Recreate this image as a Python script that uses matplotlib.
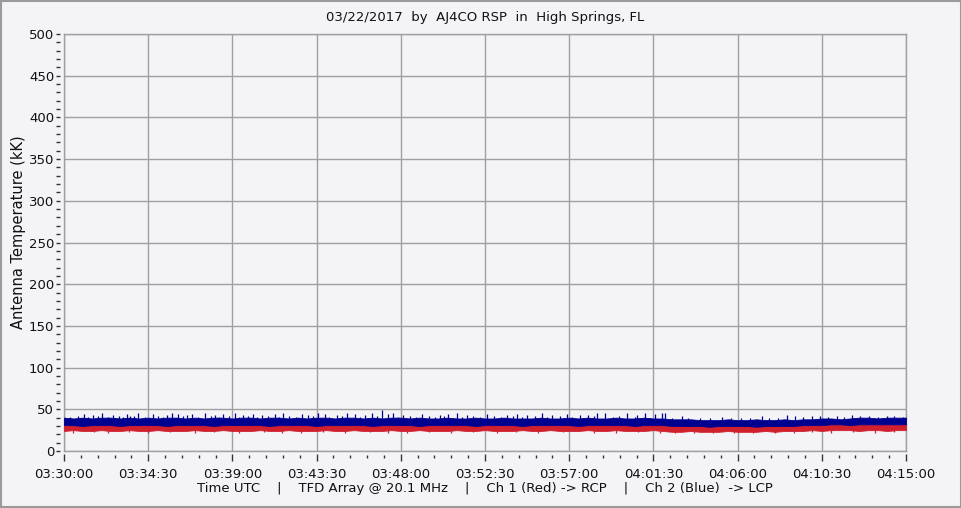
"""Antenna temperature strip chart, AJ4CO RSP, 03/22/2017."""

import matplotlib

matplotlib.use("Agg")
import matplotlib.pyplot as plt
import numpy as np
from matplotlib.patches import Rectangle

# sample times, seconds after 03:30:00 (one envelope sample every 30 s)
sample_t = np.arange(0, 2701, 30)

# channel 2 (blue, LCP) noise band envelope, kK
blue_hi = [
    40, 39, 40, 39, 40, 40, 39, 40, 39, 40,
    39, 40, 40, 39, 40, 39, 40, 40, 39, 40,
    40, 39, 40, 40, 39, 40, 39, 40, 40, 39,
    40, 40, 39, 40, 39, 40, 40, 39, 40, 39,
    39, 40, 39, 39, 40, 39, 39, 40, 39, 39,
    39, 40, 39, 39, 40, 39, 40, 39, 39, 40,
    39, 39, 40, 39, 39, 38, 38, 38, 37, 37,
    37, 38, 37, 37, 38, 37, 37, 38, 37, 38,
    38, 39, 39, 38, 39, 40, 40, 39, 40, 40,
    40,
]
blue_lo = [
    31, 31, 30, 31, 31, 31, 30, 31, 31, 31,
    31, 30, 31, 31, 31, 31, 30, 31, 31, 31,
    31, 31, 30, 31, 31, 31, 31, 30, 31, 31,
    31, 31, 31, 30, 31, 31, 31, 31, 30, 31,
    31, 31, 31, 31, 30, 31, 31, 31, 31, 30,
    31, 31, 31, 31, 31, 30, 31, 31, 31, 31,
    31, 30, 31, 31, 31, 30, 30, 30, 30, 29,
    30, 30, 30, 30, 29, 30, 30, 30, 30, 31,
    31, 31, 32, 32, 31, 32, 32, 32, 32, 32,
    32,
]

# channel 1 (red, RCP) noise band envelope, kK
red_hi = [
    31, 31, 31, 31, 31, 31, 31, 31, 31, 31,
    31, 31, 31, 31, 31, 31, 31, 31, 31, 31,
    31, 31, 31, 31, 31, 31, 31, 31, 31, 31,
    31, 31, 31, 31, 31, 31, 31, 31, 31, 31,
    31, 31, 31, 31, 31, 31, 31, 31, 31, 31,
    31, 31, 31, 31, 31, 31, 31, 31, 31, 31,
    31, 31, 31, 31, 31, 30, 30, 30, 30, 30,
    30, 30, 30, 30, 30, 30, 30, 30, 30, 31,
    31, 31, 32, 32, 32, 32, 32, 32, 32, 32,
    32,
]
red_lo = [
    24, 25, 24, 24, 25, 24, 24, 25, 24, 24,
    25, 24, 24, 24, 25, 24, 24, 25, 24, 24,
    24, 25, 24, 24, 25, 24, 24, 24, 25, 24,
    24, 25, 24, 24, 24, 25, 24, 24, 25, 24,
    24, 24, 25, 24, 24, 25, 24, 24, 24, 25,
    24, 24, 25, 24, 24, 24, 25, 24, 24, 25,
    24, 24, 24, 25, 24, 23, 23, 24, 23, 23,
    23, 24, 23, 23, 23, 24, 23, 24, 24, 24,
    25, 24, 25, 25, 25, 24, 25, 25, 24, 25,
    25,
]

# isolated blue spikes: time (s after 03:30:00) and peak (kK)
blue_spike_t = [
    64, 93, 122, 157, 202, 212, 237, 285, 330, 346, 366, 394, 410, 452,
    484, 510, 548, 574, 606, 635, 677, 702, 763, 782, 815, 837, 876, 908,
    933, 965, 988, 1020, 1039, 1055, 1087, 1148, 1206, 1232, 1260, 1292,
    1357, 1421, 1453, 1485, 1533, 1565, 1613, 1655, 1680, 1709, 1735,
    1806, 1838, 1863, 1895, 1918, 1927, 1982, 2110, 2238, 2319, 2344,
    2424, 2527, 2553, 2639,
]
blue_spike_v = [
    44, 43, 45, 43, 44, 42, 45, 44, 43, 45, 44, 43, 44, 45,
    43, 44, 45, 43, 44, 43, 44, 45, 44, 43, 45, 44, 43, 45,
    44, 43, 45, 49, 44, 45, 43, 44, 43, 44, 46, 43,
    44, 43, 44, 43, 45, 43, 44, 43, 43, 46, 45,
    45, 43, 46, 44, 46, 46, 42, 41, 42, 43, 42,
    42, 43, 42, 42,
]

# small blue bumps along the top of the band
blue_bump_t = [
    20, 45, 78, 108, 140, 175, 190, 225, 260, 300, 318, 380, 430, 470,
    498, 530, 560, 590, 620, 655, 690, 720, 745, 800, 850, 890, 950,
    1005, 1070, 1110, 1130, 1170, 1190, 1220, 1275, 1310, 1335, 1380,
    1400, 1440, 1470, 1510, 1550, 1590, 1630, 1700, 1760, 1780, 1830,
    1880, 1950, 2000, 2040, 2070, 2140, 2170, 2200, 2260, 2290, 2370,
    2400, 2450, 2480, 2500, 2580, 2610, 2660, 2690,
]
blue_bump_v = [
    41, 42, 41, 42, 41, 42, 41, 42, 41, 42, 41, 42, 41, 42,
    41, 42, 41, 42, 41, 42, 41, 42, 41, 42, 41, 42, 41,
    42, 41, 42, 41, 42, 41, 42, 41, 42, 41, 42,
    41, 42, 41, 42, 41, 42, 41, 42, 41, 42, 41,
    40, 39, 40, 39, 40, 39, 40, 39, 40, 39, 41,
    42, 41, 42, 41, 42, 41, 42, 41,
]

# downward red spikes
red_spike_t = [
    30, 95, 140, 210, 270, 340, 420, 480, 560, 640, 700, 760, 830, 900,
    980, 1040, 1100, 1170, 1240, 1310, 1390, 1450, 1520, 1600, 1700,
    1770, 1840, 1910, 1960, 2020, 2080, 2150, 2210, 2280, 2340, 2400,
    2460, 2530, 2600, 2660,
]
red_spike_v = [
    22, 23, 22, 23, 22, 23, 22, 23, 22, 23, 22, 21, 23, 22,
    23, 22, 22, 23, 22, 23, 22, 23, 22, 23, 21,
    22, 23, 22, 21, 21, 22, 21, 22, 21, 22, 23,
    22, 23, 22, 23,
]

x_tick_labels = [
    "03:30:00", "03:34:30", "03:39:00", "03:43:30", "03:48:00", "03:52:30",
    "03:57:00", "04:01:30", "04:06:00", "04:10:30", "04:15:00",
]

BG = "#f4f4f7"
GRID = "#a0a0a0"
BLUE = "#00008f"
RED = "#d0202e"
TXT = "#111111"

plt.rcParams["font.family"] = "DejaVu Sans"
plt.rcParams["font.size"] = 9.5

fig = plt.figure(figsize=(9.62, 5.08), dpi=100, facecolor=BG)
ax = fig.add_axes([64 / 962, 1 - 451 / 508, 842 / 962, 417 / 508], facecolor=BG)

# red first, blue drawn over it
ax.fill_between(sample_t, red_lo, red_hi, color=RED, lw=0.6, zorder=3)
ax.vlines(red_spike_t, red_spike_v, 25, color=RED, lw=0.9, zorder=3)
ax.fill_between(sample_t, blue_lo, blue_hi, color=BLUE, lw=0.6, zorder=4)
ax.vlines(blue_bump_t, 36, blue_bump_v, color=BLUE, lw=0.9, zorder=4)
ax.vlines(blue_spike_t, 36, blue_spike_v, color=BLUE, lw=0.9, zorder=4)

ax.set_xlim(0, 2700)
ax.set_ylim(0, 500)

major_x = np.arange(len(x_tick_labels)) * 270
ax.set_xticks(major_x, x_tick_labels)
ax.set_yticks(np.arange(0, 501, 50))
ax.tick_params(axis="x", length=0, pad=12, colors=TXT)
ax.tick_params(axis="y", length=0, pad=7, colors=TXT)
ax.grid(True, color=GRID, lw=1)
ax.set_axisbelow(True)
for sp in ax.spines.values():
    sp.set_color(GRID)
    sp.set_linewidth(1)

# detached tick marks like the original logger software
ax.plot([-0.007] * 51, np.arange(0, 501, 10), ls="none", marker="_", ms=3,
        mew=1, color="#333333", transform=ax.get_yaxis_transform(), clip_on=False)
minor_x = [m for m in np.arange(0, 2701, 54) if m % 270]
ax.vlines(major_x, -0.024, -0.007, color="#333333", lw=1,
          transform=ax.get_xaxis_transform(), clip_on=False)
ax.vlines(minor_x, -0.017, -0.010, color="#333333", lw=1,
          transform=ax.get_xaxis_transform(), clip_on=False)

fig.text(19 / 962, 1 - 232 / 508, "Antenna Temperature (kK)", rotation=90,
         ha="center", va="center", color=TXT, fontsize=10.5)
ax.set_xlabel(
    "Time UTC    |    TFD Array @ 20.1 MHz    |    Ch 1 (Red) -> RCP    |    Ch 2 (Blue)  -> LCP",
    color=TXT, labelpad=1,
)
ax.set_title("03/22/2017  by  AJ4CO RSP  in  High Springs, FL", color=TXT,
             fontsize=9.5, pad=9)

fig.patches.append(Rectangle((0.001, 0.002), 0.998, 0.996, transform=fig.transFigure,
                             fill=False, edgecolor="#9a9a9a", lw=1.5))

fig.savefig("out.png", dpi=100, facecolor=BG)
